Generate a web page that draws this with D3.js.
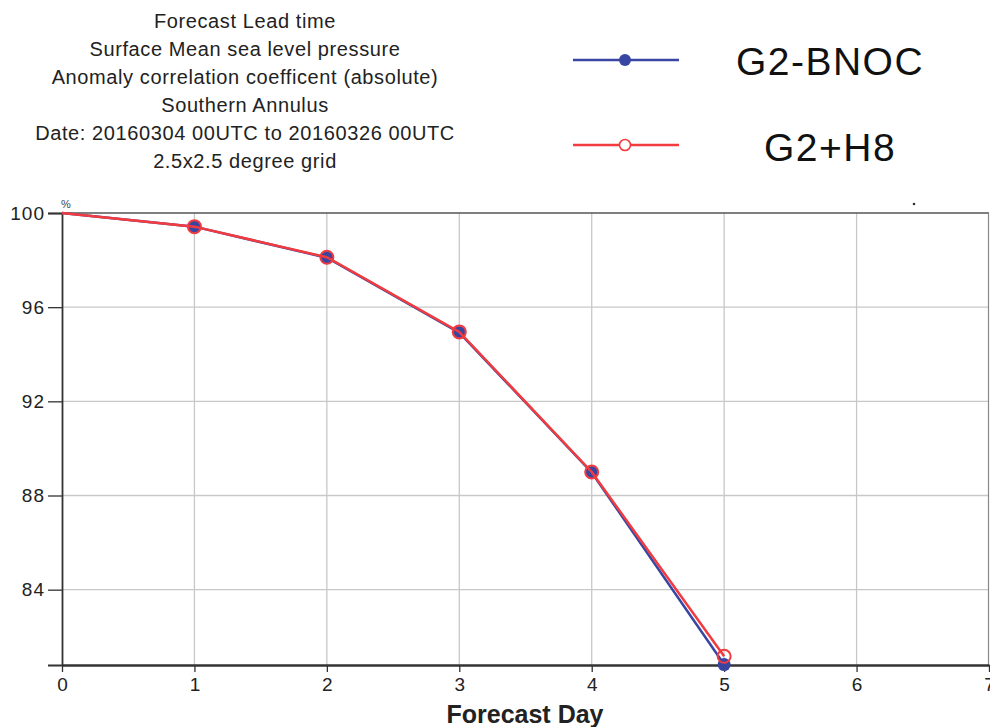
<!DOCTYPE html>
<html><head><meta charset="utf-8">
<script src="https://cdn.jsdelivr.net/npm/d3@7"></script>
<style>body{margin:0;background:#fff;} text{font-family:"Liberation Sans",Arial,sans-serif;}</style>
</head><body>
<svg id="c" width="990" height="727"></svg>
<script>
const days = [0, 1, 2, 3, 4, 5];
const bnoc = [100, 99.42, 98.1, 94.92, 88.98, 80.82];
const h8 = [100, 99.42, 98.12, 94.95, 89.0, 81.17];
const xTicks = [0, 1, 2, 3, 4, 5, 6, 7];
const yTicks = [84, 88, 92, 96, 100];
const titleLines = ["Forecast Lead time", "Surface Mean sea level pressure", "Anomaly correlation coefficent (absolute)", "Southern Annulus", "Date: 20160304 00UTC to 20160326 00UTC", "2.5x2.5 degree grid"];
const seriesNames = ["G2-BNOC", "G2+H8"];

const svg = d3.select("#c");
const x = d3.scaleLinear().domain([0, 7]).range([62, 989]);
const y = d3.scaleLinear().domain([80.8, 100]).range([665, 213]);

// grid
svg.append("g").selectAll("line").data(xTicks.slice(1, 7)).join("line")
  .attr("x1", d => x(d)).attr("x2", d => x(d)).attr("y1", 213).attr("y2", 665)
  .attr("stroke", "#c8c8c8").attr("stroke-width", 1.3);
svg.append("g").selectAll("line").data(yTicks.slice(0, 4)).join("line")
  .attr("x1", 62).attr("x2", 989).attr("y1", d => y(d)).attr("y2", d => y(d))
  .attr("stroke", "#c8c8c8").attr("stroke-width", 1.3);

// frame
svg.append("line").attr("x1", 62).attr("x2", 989).attr("y1", 213).attr("y2", 213).attr("stroke", "#555").attr("stroke-width", 1.5);
svg.append("line").attr("x1", 988.5).attr("x2", 988.5).attr("y1", 213).attr("y2", 665).attr("stroke", "#888").attr("stroke-width", 1.2);

// axes
const yAxis = d3.axisLeft(y).tickValues(yTicks).tickSize(14).tickPadding(3).tickFormat(d3.format("d"));
const gy = svg.append("g").attr("transform", "translate(62,0)").call(yAxis);
gy.select(".domain").attr("stroke", "#333").attr("stroke-width", 1.8);
gy.selectAll(".tick line").attr("stroke", "#333").attr("stroke-width", 1.3);
gy.selectAll(".tick text").style("font-size", "19px").style("letter-spacing", "1px").attr("fill", "#222").attr("font-family", "Liberation Sans, Arial, sans-serif");

const xAxis = d3.axisBottom(x).tickValues(xTicks).tickSize(7).tickPadding(6).tickSizeOuter(0).tickFormat(d3.format("d"));
const gx = svg.append("g").attr("transform", "translate(0,665)").call(xAxis);
gx.select(".domain").attr("stroke", "#333").attr("stroke-width", 2.5);
gx.selectAll(".tick line").attr("stroke", "#333").attr("stroke-width", 1.3);
gx.selectAll(".tick text").style("font-size", "19px").attr("fill", "#222").attr("font-family", "Liberation Sans, Arial, sans-serif");

svg.append("text").attr("x", 525).attr("y", 723).attr("text-anchor", "middle")
  .style("font-size", "25px").style("font-weight", "bold").attr("fill", "#222").text("Forecast Day");
svg.append("text").attr("x", 66).attr("y", 208).attr("text-anchor", "middle")
  .style("font-size", "11px").attr("fill", "#444").text("%");
svg.append("circle").attr("cx", 914).attr("cy", 204).attr("r", 1.3).attr("fill", "#333");

// title
svg.append("g").selectAll("text").data(titleLines).join("text")
  .attr("x", 245).attr("y", (d, i) => 28 + i * 28).attr("text-anchor", "middle")
  .style("font-size", "20px").style("letter-spacing", "0.6px").attr("fill", "#222").text(d => d);

const blue = "#3846a2", red = "#f23b3f";
const line = d3.line().x(d => x(d[0])).y(d => y(d[1]));
const bData = days.map((d, i) => [d, bnoc[i]]);
const rData = days.map((d, i) => [d, h8[i]]);

svg.append("path").datum(bData).attr("d", line).attr("fill", "none").attr("stroke", blue).attr("stroke-width", 2.5);
svg.append("g").selectAll("circle").data(bData.slice(1)).join("circle")
  .attr("cx", d => x(d[0])).attr("cy", d => y(d[1])).attr("r", 6.5).attr("fill", blue);
svg.append("path").datum(rData).attr("d", line).attr("fill", "none").attr("stroke", red).attr("stroke-width", 2.5);
svg.append("g").selectAll("circle").data(rData.slice(1)).join("circle")
  .attr("cx", d => x(d[0])).attr("cy", d => y(d[1])).attr("r", 6.5).attr("fill", "none").attr("stroke", red).attr("stroke-width", 2);

// legend
const leg = [{name: seriesNames[0], c: blue, filled: true, y: 60, ty: 75}, {name: seriesNames[1], c: red, filled: false, y: 145, ty: 161}];
leg.forEach(l => {
  svg.append("line").attr("x1", 573).attr("x2", 679).attr("y1", l.y).attr("y2", l.y).attr("stroke", l.c).attr("stroke-width", 2.5);
  const c = svg.append("circle").attr("cx", 625).attr("cy", l.y).attr("r", l.filled ? 6 : 5.5);
  if (l.filled) c.attr("fill", l.c); else c.attr("fill", "#fff").attr("stroke", l.c).attr("stroke-width", 1.6);
  svg.append("text").attr("x", 830).attr("y", l.ty).attr("text-anchor", "middle")
    .style("font-size", "39px").style("letter-spacing", "1.5px").attr("fill", "#111").text(l.name);
});
</script>
</body></html>
